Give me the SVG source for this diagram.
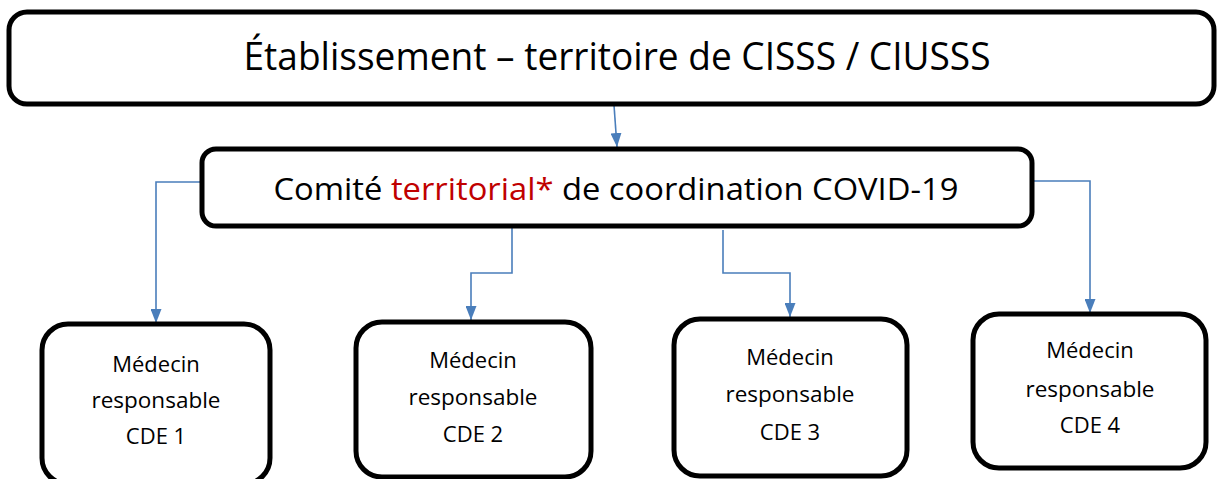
<svg xmlns="http://www.w3.org/2000/svg" width="1217" height="479" viewBox="0 0 1217 479">
<defs>
<marker id="ah" viewBox="0 0 14 11" refX="14" refY="5.5" markerWidth="14" markerHeight="11" markerUnits="userSpaceOnUse" orient="auto">
<path d="M0,0 L14,5.5 L0,11 Z" fill="#4a7ebb"/>
</marker>
<style>
.box{fill:#fff;stroke:#000;stroke-width:5}
.t{font-family:"Open Sans","Noto Sans",sans-serif;fill:#000;text-anchor:middle}
.big{font-size:38px}
.mid{font-size:31px}
.sm{font-size:22px}
.red{fill:#c00000}
.c{fill:none;stroke:#4a7ebb;stroke-width:1.6}
.ca{fill:none;stroke:#4a7ebb;stroke-width:1.6;marker-end:url(#ah)}
</style>
</defs>
<rect width="1217" height="479" fill="#fff"/>
<g id="connectors">
<path class="ca" d="M614,105 L617,147"/>
<path class="c" d="M202,212 L202,182"/>
<path class="ca" d="M202,182 L156,182 L156,323"/>
<path class="ca" d="M512,228 L512,273 L471,273 L471,320"/>
<path class="ca" d="M723,230 L723,273 L790,273 L790,317"/>
<path class="c" d="M1032,205 L1032,181"/>
<path class="ca" d="M1032,181 L1090,181 L1090,313"/>
</g>
<g id="etablissement">
<rect class="box" x="9" y="12" width="1205" height="92" rx="18"/>
<text class="t big" x="617" y="70" textLength="747" lengthAdjust="spacingAndGlyphs">Établissement – territoire de CISSS / CIUSSS</text>
</g>
<g id="comite">
<rect class="box" x="202" y="149" width="830" height="77" rx="14"/>
<text class="t mid" x="616" y="200" textLength="685" lengthAdjust="spacingAndGlyphs">Comité <tspan class="red">territorial*</tspan> de coordination COVID-19</text>
</g>
<g id="cde1">
<rect class="box" x="42" y="324" width="228" height="160" rx="26"/>
<text class="t sm" x="156" y="372">Médecin</text>
<text class="t sm" x="156" y="408" textLength="129" lengthAdjust="spacingAndGlyphs">responsable</text>
<text class="t sm" x="156" y="444">CDE 1</text>
</g>
<g id="cde2">
<rect class="box" x="356" y="322" width="235" height="155" rx="26"/>
<text class="t sm" x="473" y="368">Médecin</text>
<text class="t sm" x="473" y="405" textLength="129" lengthAdjust="spacingAndGlyphs">responsable</text>
<text class="t sm" x="473" y="442">CDE 2</text>
</g>
<g id="cde3">
<rect class="box" x="674" y="319" width="233" height="157" rx="26"/>
<text class="t sm" x="790" y="365">Médecin</text>
<text class="t sm" x="790" y="402" textLength="129" lengthAdjust="spacingAndGlyphs">responsable</text>
<text class="t sm" x="790" y="440">CDE 3</text>
</g>
<g id="cde4">
<rect class="box" x="973" y="314" width="233" height="154" rx="26"/>
<text class="t sm" x="1090" y="358">Médecin</text>
<text class="t sm" x="1090" y="397" textLength="129" lengthAdjust="spacingAndGlyphs">responsable</text>
<text class="t sm" x="1090" y="433">CDE 4</text>
</g>
</svg>
